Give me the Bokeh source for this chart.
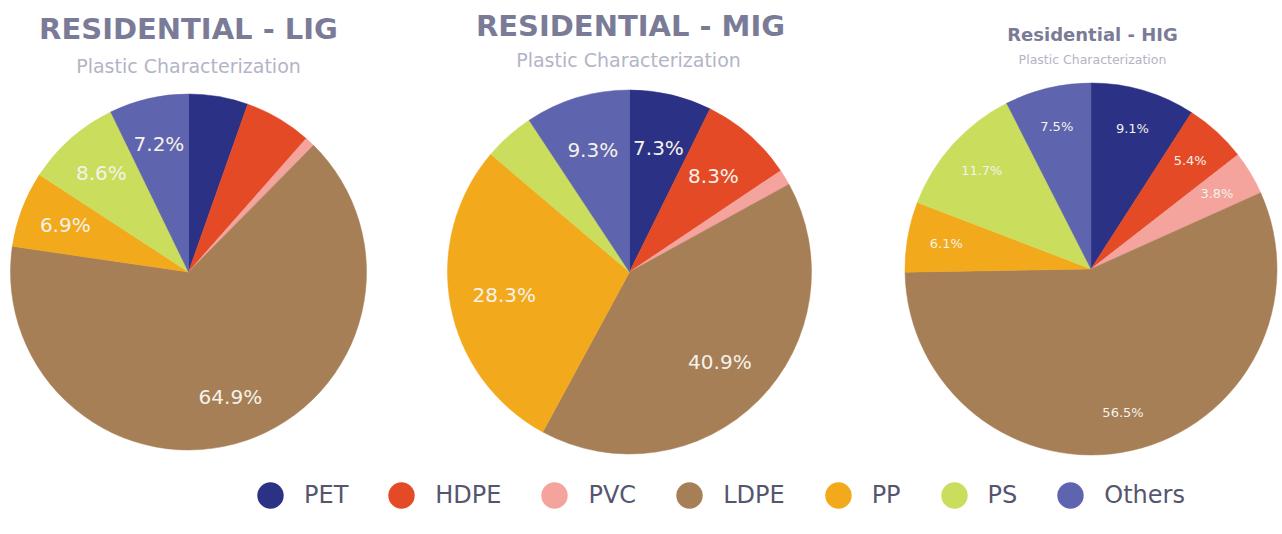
import math
from bokeh.plotting import figure
from bokeh.models import ColumnDataSource, Range1d, Legend, LegendItem
from bokeh.embed import file_html
from bokeh.resources import INLINE
from bokeh.core.properties import value

# ---------------- data ----------------
categories = ["PET", "HDPE", "PVC", "LDPE", "PP", "PS", "Others"]
colors = ["#2b3184", "#e44a25", "#f4a39d", "#a67f56", "#f3a91c", "#cbdd5d", "#5e64ae"]

lig_values = [5.4, 6.1, 0.9, 64.9, 6.9, 8.6, 7.2]
mig_values = [7.3, 8.3, 1.4, 40.9, 28.3, 4.5, 9.3]
hig_values = [9.1, 5.4, 3.8, 56.5, 6.1, 11.7, 7.5]

titles = ["RESIDENTIAL - LIG", "RESIDENTIAL - MIG", "Residential - HIG"]
subtitle = "Plastic Characterization"

# ---------------- layout (screen px) ----------------
W, H = 1282, 534

def Y(sy):
    return H - sy

pies = [
    dict(values=lig_values, cx=188, cy=271.5, r=178, lf=0.74, lfs="20px", minlab=6.5,
         title=titles[0], tx=188, ty=28, tfs="29px", sx=188, sy=65, sfs="19px"),
    dict(values=mig_values, cx=629, cy=271.5, r=182, lf=0.70, lfs="20px", minlab=5.0,
         title=titles[1], tx=630, ty=25, tfs="29px", sx=628, sy=59, sfs="19px"),
    dict(values=hig_values, cx=1090.5, cy=268.5, r=186, lf=0.79, lfs="13px", minlab=0.0,
         title=titles[2], tx=1092, ty=34, tfs="18px", sx=1092, sy=59, sfs="12.5px"),
]

p = figure(width=W, height=H, x_range=Range1d(0, W), y_range=Range1d(0, H),
           output_backend="svg", toolbar_location=None, min_border=0,
           x_axis_location=None, y_axis_location=None)
p.grid.visible = False
p.outline_line_color = None
p.background_fill_color = "white"

for pie in pies:
    vals = pie["values"]
    total = sum(vals)
    starts, ends, lx, ly, lt = [], [], [], [], []
    cum = 0.0
    for v in vals:
        a0 = math.pi / 2 - 2 * math.pi * cum / total
        a1 = math.pi / 2 - 2 * math.pi * (cum + v) / total
        starts.append(a1)
        ends.append(a0)
        mid = math.pi / 2 - 2 * math.pi * (cum + v / 2) / total
        if v >= pie["minlab"]:
            lx.append(pie["cx"] + pie["lf"] * pie["r"] * math.cos(mid))
            ly.append(Y(pie["cy"]) + pie["lf"] * pie["r"] * math.sin(mid))
            lt.append(f"{v:.1f}%")
        cum += v
    src = ColumnDataSource(dict(x=[pie["cx"]] * len(vals), y=[Y(pie["cy"])] * len(vals),
                                start=starts, end=ends, color=colors, cat=categories))
    p.wedge(x="x", y="y", radius=pie["r"], start_angle="start", end_angle="end",
            fill_color="color", line_color="color", line_width=0.5, source=src)
    p.text(x=lx, y=ly, text=lt, text_align="center", text_baseline="middle",
           text_font=value("DejaVu Sans"), text_font_size=pie["lfs"], text_color="#f5f2ea")
    p.text(x=[pie["tx"]], y=[Y(pie["ty"])], text=[pie["title"]], text_align="center",
           text_baseline="middle", text_font=value("DejaVu Sans"), text_font_style="bold",
           text_font_size=pie["tfs"], text_color="#7a7c97")
    p.text(x=[pie["sx"]], y=[Y(pie["sy"])], text=[subtitle], text_align="center",
           text_baseline="middle", text_font=value("DejaVu Sans"),
           text_font_size=pie["sfs"], text_color="#b3b4c6")

# legend via an invisible scatter (size 0), one legend item per category
leg_src = ColumnDataSource(dict(x=[pies[0]["cx"]] * len(categories),
                                y=[Y(pies[0]["cy"])] * len(categories),
                                color=colors, cat=categories))
sr = p.scatter(x="x", y="y", size=0, fill_color="color", line_color=None, source=leg_src)
items = [LegendItem(label=c, renderers=[sr], index=i) for i, c in enumerate(categories)]
legend = Legend(items=items, orientation="horizontal", location=(237, 6),
                glyph_width=66, glyph_height=66, label_standoff=1, spacing=20,
                padding=0, margin=0, border_line_alpha=0, background_fill_alpha=0,
                label_text_font="DejaVu Sans", label_text_font_size="24px",
                label_text_color="#55566e", label_text_baseline="middle")
p.add_layout(legend)

open("out.html", "w").write(file_html(p, INLINE))
